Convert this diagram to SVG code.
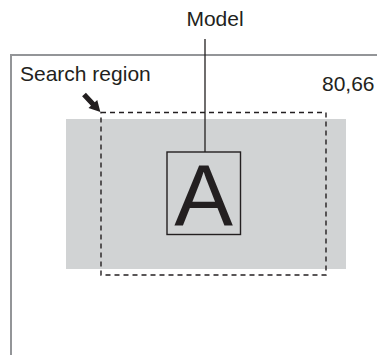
<svg xmlns="http://www.w3.org/2000/svg" width="377" height="355" viewBox="0 0 377 355">
<style>
text{font-family:"Liberation Sans",Arial,sans-serif;fill:#231f20}
.lbl{font-size:21px}
</style>
<rect width="377" height="355" fill="#fff"/>
<g id="frame"><path d="M11,360 V55 H380" fill="none" stroke="#939598" stroke-width="2"/></g>
<g id="image-region"><rect x="66" y="119" width="280" height="150" fill="#d1d3d4"/></g>
<g id="search-region"><rect x="101" y="112.5" width="225" height="162.5" fill="none" stroke="#231f20" stroke-width="1.4" stroke-dasharray="5,4"/></g>
<g id="model"><rect x="167" y="152" width="73.5" height="82.5" fill="none" stroke="#231f20" stroke-width="1.4"/>
<text x="203.5" y="226" font-size="88" text-anchor="middle">A</text></g>
<g id="connectors">
<line x1="205" y1="39" x2="205" y2="152" stroke="#231f20" stroke-width="1.3"/>
<polygon points="0,-2.6 13,-2.6 13,-6 24,0 13,6 13,2.6 0,2.6" fill="#231f20" transform="translate(84,94.5) rotate(47)"/>
</g>
<g id="labels">
<text class="lbl" x="215" y="26" text-anchor="middle">Model</text>
<text class="lbl" x="20" y="81">Search region</text>
<text class="lbl" x="322" y="91">80,66</text>
</g>
</svg>
